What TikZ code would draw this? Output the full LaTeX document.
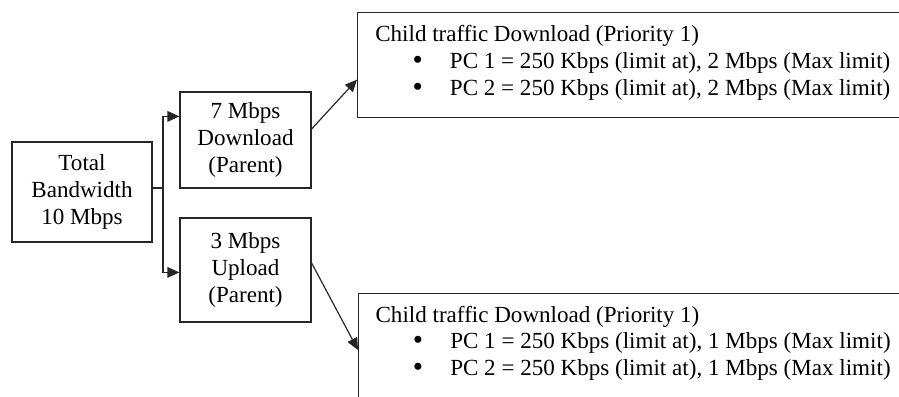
\documentclass[tikz,border=0pt]{standalone}
\usepackage{fontspec}
\setmainfont{Liberation Serif}
\usetikzlibrary{arrows.meta,positioning}
\tikzset{
  box/.style={draw=black!85, line width=0.9pt, align=center, inner sep=0pt},
  flow/.style={draw=black!85, line width=0.9pt, -{Triangle[length=9pt,width=8pt]}},
  listtext/.style={anchor=north west, align=left, inner sep=0pt},
}
\newcommand{\pcitem}[1]{\makebox[56pt][l]{\hspace*{28pt}\raisebox{-0.8pt}{\fontsize{22}{20}\selectfont\textbullet}}#1}

\begin{document}
\begin{tikzpicture}[x=0.75pt, y=-0.75pt, font=\fontsize{17.3}{20}\selectfont]
\useasboundingbox (0,0) rectangle (899,396);
\clip (0,0) rectangle (899,396);

% parent boxes
\node[box, minimum width=105pt, minimum height=75pt] (total) at (82,192) {Total\\Bandwidth\\10 Mbps};
\node[box, minimum width=98.25pt, minimum height=72pt] (down) at (245.5,140) {7 Mbps\\Download\\(Parent)};
\node[box, minimum width=98.25pt, minimum height=78pt] (up) at (245.5,270) {3 Mbps\\Upload\\(Parent)};

% child boxes, running off the page
\node[box, anchor=north west, minimum width=450pt, minimum height=78.75pt] (downchild) at (357,12) {};
\node[box, anchor=north west, minimum width=450pt, minimum height=100pt] (upchild) at (358,293) {};

\node[listtext] (downlist) at ([xshift=13.5pt,yshift=-10pt]downchild.north west)
  {Child traffic Download (Priority 1)\\
   \pcitem{PC 1 = 250 Kbps (limit at), 2 Mbps (Max limit)}\\
   \pcitem{PC 2 = 250 Kbps (limit at), 2 Mbps (Max limit)}};
\node[listtext] (uplist) at ([xshift=13pt,yshift=-9.5pt]upchild.north west)
  {Child traffic Download (Priority 1)\\
   \pcitem{PC 1 = 250 Kbps (limit at), 1 Mbps (Max limit)}\\
   \pcitem{PC 2 = 250 Kbps (limit at), 1 Mbps (Max limit)}};

% connectors
\coordinate (fork) at (163,188);
\draw[draw=black!85, line width=0.9pt] (total.east |- fork) -- (fork);
\draw[flow] (fork) |- ([yshift=-18.75pt]down.north west);
\draw[flow] (fork) |- ([yshift=-41.25pt]up.north west);
\draw[flow] ([yshift=8.25pt]down.east) -- ([yshift=-10.9pt]downchild.west);
\draw[flow] ([yshift=5.25pt]up.east) -- ([yshift=-42.75pt]upchild.north west);
\end{tikzpicture}
\end{document}
